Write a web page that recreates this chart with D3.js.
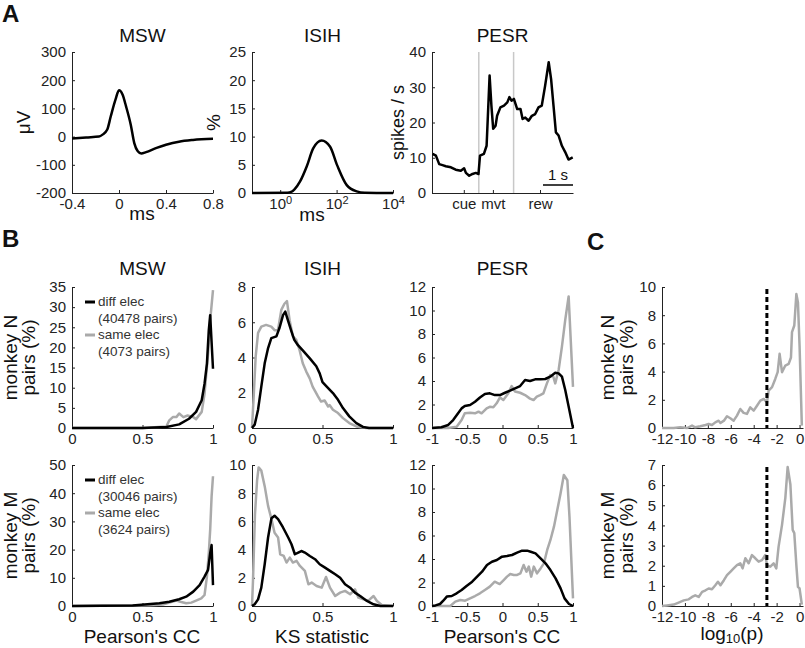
<!DOCTYPE html>
<html>
<head>
<meta charset="utf-8">
<script src="https://cdn.jsdelivr.net/npm/d3@7"></script>
<style>
  body { margin: 0; background: #fff; }
  svg { font-family: "Liberation Sans", Arial, sans-serif; }
  .tick text { font-size: 15px; fill: #222; }
  .domain, .tick line { stroke: #222; stroke-width: 1; }
</style>
</head>
<body>
<svg width="805" height="648"></svg>
<script>
// ---- panel A data ----
const mswTime = [-0.4, -0.28, -0.17, -0.14, -0.10, -0.07, -0.03, 0.0, 0.03, 0.06, 0.10, 0.13, 0.16, 0.19, 0.23, 0.32, 0.40, 0.51, 0.63, 0.80];
const mswVolt = [-7, -3, 0, 7, 25, 72, 131, 164, 149, 107, 42, -23, -52, -60, -55, -40, -29, -18, -12, -8];

const isihMs = [0.1, 1.78, 2.57, 3.16, 5.01, 8.71, 14.8, 29.5, 58.9, 105, 229, 513, 1000, 10000];
const isihPct = [0, 0.05, 0.23, 0.6, 2.0, 4.7, 7.9, 9.3, 8.2, 4.9, 1.4, 0.3, 0.05, 0];

const pesrTime = [0.02, 0.13, 0.24, 0.35, 0.46, 0.63, 0.79, 0.96, 1.07, 1.13, 1.24, 1.35, 1.46, 1.55, 1.60, 1.73, 1.82, 1.92, 1.98, 2.04, 2.12, 2.17, 2.28, 2.40, 2.51, 2.58, 2.65, 2.73, 2.84, 2.95, 3.02, 3.11, 3.22, 3.33, 3.44, 3.55, 3.66, 3.77, 3.89, 3.97, 4.05, 4.13, 4.22, 4.33, 4.44, 4.55, 4.69];
const pesrRate = [11.1, 10.6, 8.2, 7.9, 7.6, 7.3, 6.6, 6.3, 7.0, 5.7, 4.9, 5.4, 5.7, 5.4, 10.6, 11.1, 13.4, 33.3, 24.8, 18.2, 19.1, 21.9, 24.3, 24.8, 25.7, 27.2, 26.2, 26.7, 23.8, 23.8, 21.0, 21.4, 20.5, 21.9, 22.4, 24.3, 24.8, 30.4, 37.1, 32.3, 24.8, 17.2, 16.3, 13.4, 11.6, 9.5, 10.1];
const pesrEventLines = [1.56, 2.72];
const pesrEventTicks = [1.06, 2.03, 3.6];
const pesrEventLabels = ["cue", "mvt", "rew"];

// ---- panel B / C data: [x, % pairs] ----
const nMswDiff = [[0, 0], [0.5, 0], [0.67, 0.25], [0.76, 0.9], [0.83, 2.3], [0.88, 4], [0.92, 6.9], [0.94, 11], [0.957, 16], [0.97, 24.2], [0.98, 28], [1.0, 14.7]];
const nMswSame = [[0, 0], [0.5, 0], [0.67, 0.4], [0.69, 1.9], [0.715, 2.7], [0.74, 2.7], [0.76, 3.6], [0.79, 2.7], [0.82, 3.1], [0.86, 2.7], [0.88, 2.2], [0.92, 4], [0.94, 8.5], [0.965, 18.4], [0.98, 26.7], [1.0, 34.2]];
const nIsihDiff = [[0, 0], [0.019, 0.19], [0.043, 1.04], [0.066, 2.35], [0.09, 3.67], [0.113, 4.5], [0.137, 5.1], [0.173, 5.2], [0.196, 5.7], [0.22, 6.4], [0.236, 6.6], [0.255, 6.1], [0.279, 5.5], [0.30, 5.0], [0.326, 4.7], [0.36, 4.4], [0.41, 3.95], [0.456, 3.5], [0.48, 3.1], [0.50, 2.6], [0.54, 2.26], [0.574, 1.98], [0.61, 1.6], [0.645, 1.13], [0.69, 0.66], [0.74, 0.28], [0.787, 0.06], [0.83, 0], [1.0, 0]];
const nIsihSame = [[0, 0], [0.012, 1.8], [0.026, 4.05], [0.043, 5.4], [0.066, 5.75], [0.10, 5.85], [0.137, 5.75], [0.16, 5.55], [0.184, 5.55], [0.208, 6.7], [0.23, 7.05], [0.248, 7.2], [0.267, 6.1], [0.29, 5.2], [0.314, 5.0], [0.338, 4.4], [0.36, 3.67], [0.385, 3.2], [0.41, 2.8], [0.43, 2.35], [0.468, 1.8], [0.49, 1.5], [0.515, 1.56], [0.54, 1.22], [0.55, 1.3], [0.574, 1.04], [0.61, 0.85], [0.645, 0.56], [0.69, 0.28], [0.74, 0.09], [0.81, 0], [1.0, 0]];
const nPesrDiff = [[-1, 0], [-0.867, 0.06], [-0.77, 0.26], [-0.70, 0.68], [-0.63, 1.25], [-0.58, 1.67], [-0.535, 1.87], [-0.46, 1.96], [-0.39, 2.24], [-0.32, 2.6], [-0.25, 2.9], [-0.18, 2.95], [-0.107, 2.8], [-0.036, 2.8], [0.036, 3.0], [0.107, 3.18], [0.178, 3.38], [0.25, 3.57], [0.32, 4.08], [0.39, 4.0], [0.463, 4.14], [0.534, 4.14], [0.606, 4.17], [0.677, 4.37], [0.748, 4.7], [0.796, 4.65], [0.843, 4.37], [0.89, 3.23], [0.938, 1.82], [1.0, 0]];
const nPesrSame = [[-1, 0], [-0.77, 0], [-0.65, 0.11], [-0.58, 0.68], [-0.535, 1.25], [-0.46, 1.3], [-0.39, 1.25], [-0.34, 1.39], [-0.297, 1.25], [-0.225, 1.67], [-0.18, 1.8], [-0.13, 1.76], [-0.083, 2.1], [-0.036, 2.6], [0.012, 2.38], [0.083, 2.95], [0.13, 3.57], [0.178, 3.1], [0.25, 3.0], [0.32, 2.8], [0.39, 2.5], [0.44, 2.38], [0.487, 2.67], [0.534, 2.8], [0.58, 2.95], [0.63, 3.8], [0.677, 4.5], [0.72, 4.37], [0.748, 3.8], [0.796, 4.94], [0.843, 6.92], [0.89, 9.2], [0.938, 11.2], [1.0, 3.5]];
const nLogP = [[-12, 0], [-11.56, 0], [-10.98, 0], [-10.4, 0.05], [-9.8, 0], [-9.38, 0.17], [-9.1, 0.05], [-8.66, 0.12], [-8.2, 0.21], [-7.93, 0.28], [-7.64, 0.21], [-7.35, 0.4], [-7.06, 0.52], [-6.9, 0.36], [-6.6, 0.52], [-6.33, 0.83], [-6.04, 0.69], [-5.75, 0.52], [-5.46, 0.88], [-5.17, 1.35], [-4.88, 1.07], [-4.59, 1.0], [-4.3, 1.47], [-4.0, 1.23], [-3.7, 1.6], [-3.42, 1.94], [-3.13, 2.06], [-2.84, 1.82], [-2.7, 2.65], [-2.4, 2.9], [-2.12, 3.48], [-1.91, 3.96], [-1.74, 5.26], [-1.53, 3.96], [-1.24, 4.43], [-0.95, 4.55], [-0.75, 5.0], [-0.66, 6.8], [-0.46, 7.27], [-0.28, 9.5], [-0.14, 8.9], [0.0, 5.85], [0.2, 0.17]];

const mMswDiff = [[0, 0], [0.43, 0.2], [0.62, 0.95], [0.69, 1.5], [0.76, 2.4], [0.81, 3.3], [0.86, 5.1], [0.905, 7.4], [0.94, 10.4], [0.965, 12.8], [0.98, 18.7], [0.99, 21.6], [1.0, 7.4]];
const mMswSame = [[0, 0], [0.55, 0.24], [0.645, 0.5], [0.69, 1.2], [0.74, 1.9], [0.775, 1.4], [0.81, 0.95], [0.846, 1.2], [0.88, 1.9], [0.917, 2.7], [0.94, 3.9], [0.957, 10.4], [0.97, 18.7], [0.98, 27], [0.99, 38.8], [1.0, 46]];
const mIsihDiff = [[0, 0], [0.019, 0.12], [0.043, 0.47], [0.066, 1.3], [0.09, 2.96], [0.114, 4.86], [0.138, 6.23], [0.16, 6.4], [0.185, 6.16], [0.22, 5.57], [0.257, 4.86], [0.28, 4.38], [0.304, 3.67], [0.328, 3.79], [0.35, 3.9], [0.375, 3.79], [0.41, 3.55], [0.447, 3.32], [0.48, 2.96], [0.518, 2.72], [0.553, 2.49], [0.59, 2.25], [0.625, 2.0], [0.66, 1.54], [0.696, 1.3], [0.73, 0.95], [0.767, 0.71], [0.815, 0.36], [0.862, 0.12], [0.91, 0], [1.0, 0]];
const mIsihSame = [[0, 0], [0.007, 1.78], [0.021, 6.5], [0.036, 8.9], [0.047, 9.83], [0.066, 9.6], [0.09, 8.5], [0.114, 7.1], [0.138, 6.16], [0.16, 5.2], [0.185, 4.86], [0.2, 3.67], [0.225, 3.55], [0.245, 3.08], [0.268, 3.43], [0.29, 3.08], [0.316, 3.2], [0.34, 2.84], [0.375, 2.49], [0.4, 1.54], [0.423, 1.66], [0.458, 1.42], [0.494, 1.3], [0.525, 2.06], [0.553, 1.3], [0.59, 0.71], [0.625, 0.95], [0.66, 1.07], [0.696, 0.83], [0.73, 1.18], [0.755, 0.59], [0.79, 0.47], [0.827, 0.4], [0.862, 0.71], [0.886, 0.36], [0.92, 0.07], [1.0, 0]];
const mPesrDiff = [[-1, 0], [-0.95, 0.05], [-0.886, 0.17], [-0.84, 0.45], [-0.79, 0.8], [-0.72, 0.85], [-0.65, 1.08], [-0.58, 1.36], [-0.51, 1.7], [-0.43, 2.07], [-0.36, 2.5], [-0.29, 2.92], [-0.22, 3.49], [-0.15, 3.77], [-0.08, 3.91], [-0.007, 4.2], [0.064, 4.26], [0.135, 4.34], [0.207, 4.54], [0.278, 4.71], [0.35, 4.71], [0.4, 4.62], [0.468, 4.48], [0.54, 4.06], [0.61, 3.63], [0.68, 3.06], [0.753, 2.35], [0.824, 1.5], [0.88, 0.65], [0.943, 0.17], [1.0, 0]];
const mPesrSame = [[-1, 0], [-0.74, 0], [-0.67, 0.37], [-0.6, 0.51], [-0.53, 0.45], [-0.46, 0.65], [-0.39, 0.85], [-0.32, 1.08], [-0.25, 1.36], [-0.18, 1.65], [-0.11, 2.07], [-0.04, 1.87], [0.017, 2.21], [0.064, 2.5], [0.11, 2.72], [0.16, 2.64], [0.207, 2.64], [0.254, 2.78], [0.3, 3.49], [0.34, 2.92], [0.373, 3.35], [0.407, 2.5], [0.444, 3.35], [0.49, 2.78], [0.54, 3.2], [0.587, 3.63], [0.634, 4.77], [0.68, 5.62], [0.73, 6.75], [0.777, 8.17], [0.824, 9.59], [0.87, 11.15], [0.92, 10.7], [0.95, 7.6], [1.0, 0.65]];
const mLogP = [[-12, 0], [-11.56, 0.03], [-10.98, 0.07], [-10.55, 0.17], [-10.1, 0.28], [-9.67, 0.33], [-9.38, 0.45], [-9.1, 0.53], [-8.8, 0.45], [-8.5, 0.7], [-8.2, 0.78], [-7.93, 0.87], [-7.64, 0.83], [-7.35, 1.03], [-7.12, 1.2], [-6.9, 1.03], [-6.6, 1.28], [-6.33, 1.53], [-6.04, 1.7], [-5.75, 1.87], [-5.46, 2.03], [-5.17, 2.12], [-4.97, 1.87], [-4.73, 2.37], [-4.44, 2.12], [-4.15, 2.53], [-3.86, 2.37], [-3.57, 2.2], [-3.28, 2.28], [-2.99, 2.53], [-2.84, 2.03], [-2.55, 1.95], [-2.26, 2.12], [-2.03, 1.87], [-1.83, 2.95], [-1.53, 4.03], [-1.24, 5.37], [-1.04, 6.9], [-0.8, 6.03], [-0.6, 3.78], [-0.46, 3.62], [-0.28, 2.03], [-0.14, 0.95], [0.0, 0.87], [0.2, 0.07]];
const pThreshold = -2.85;

const nLegend = ["diff elec", "(40478 pairs)", "same elec", "(4073 pairs)"];
const mLegend = ["diff elec", "(30046 pairs)", "same elec", "(3624 pairs)"];
const colTitles = ["MSW", "ISIH", "PESR"];

// ---- layout ----
const svg = d3.select("svg");
const BLACK = "#000", GRAY = "#aaa";
const cols = [[72, 213], [252, 393], [432, 573], [662, 803]];
const rowA = [52, 193], rowN = [287, 428], rowM = [465, 606];
const plain = d => String(d); // 0.5, 1, -1 with a hyphen, like the original

function axes(col, row, xs, ys, xt, yt) {
  const x = xs.range(col), y = ys.range([row[1], row[0]]);
  const g = svg.append("g");
  const xg = g.append("g").attr("transform", "translate(0," + row[1] + ")")
    .call(d3.axisBottom(x).tickValues(xt).tickFormat(plain).tickSize(-3).tickSizeOuter(0).tickPadding(5));
  g.append("g").attr("transform", "translate(" + col[0] + ",0)")
    .call(d3.axisLeft(y).tickValues(yt).tickFormat(plain).tickSize(-3).tickSizeOuter(0).tickPadding(6));
  return { g, xg, x, y };
}

function curve(p, data, color, smooth) {
  const line = d3.line().x(d => p.x(d[0])).y(d => p.y(d[1]));
  if (smooth) line.curve(d3.curveMonotoneX);
  p.g.append("path").attr("d", line(data)).attr("fill", "none")
    .attr("stroke", color).attr("stroke-width", 2.5).attr("stroke-linejoin", "round");
}

function text(x, y, s, size, opts = {}) {
  const t = svg.append("text").attr("x", x).attr("y", y).text(s)
    .attr("font-size", size).attr("text-anchor", opts.anchor || "middle").attr("fill", "#111");
  if (opts.bold) t.attr("font-weight", "bold");
  return t;
}

function ylabel(x, yc, s, size) {
  svg.append("text").attr("transform", "translate(" + x + "," + yc + ") rotate(-90)")
    .attr("text-anchor", "middle").attr("font-size", size).attr("fill", "#111").text(s);
}

const range = (a, b, s) => d3.range(a, b + s / 2, s);

// ---- panel A ----
text(2, 22, "A", 24, { anchor: "start", bold: true });
colTitles.forEach((t, i) => text((cols[i][0] + cols[i][1]) / 2, 42, t, 19));

const a1 = axes(cols[0], rowA, d3.scaleLinear().domain([-0.4, 0.8]), d3.scaleLinear().domain([-200, 300]),
  [-0.4, 0, 0.4, 0.8], range(-200, 300, 100));
curve(a1, mswTime.map((t, i) => [t, mswVolt[i]]), BLACK, true);
ylabel(30, (rowA[0] + rowA[1]) / 2, "μV", 19);
text(142, 220, "ms", 19);

const a2 = axes(cols[1], rowA, d3.scaleLog().domain([0.1, 10000]), d3.scaleLinear().domain([0, 25]),
  [1, 100, 10000], range(0, 25, 5));
a2.xg.selectAll(".tick text").each(function (d) {
  const t = d3.select(this).text("");
  t.append("tspan").text("10");
  t.append("tspan").attr("dy", "-0.45em").attr("font-size", "11px").text(Math.round(Math.log10(d)));
});
curve(a2, isihMs.map((t, i) => [t, isihPct[i]]), BLACK, true);
ylabel(220, (rowA[0] + rowA[1]) / 2, "%", 19);
text(312, 221, "ms", 19);

const a3 = axes(cols[2], rowA, d3.scaleLinear().domain([0, 4.7]), d3.scaleLinear().domain([0, 40]),
  pesrEventTicks, range(0, 40, 10));
a3.xg.selectAll(".tick text").text((d, i) => pesrEventLabels[i]);
pesrEventLines.forEach(t => a3.g.append("line").attr("x1", a3.x(t)).attr("x2", a3.x(t))
  .attr("y1", rowA[0]).attr("y2", rowA[1]).attr("stroke", "#c8c8c8").attr("stroke-width", 1.5));
curve(a3, pesrTime.map((t, i) => [t, pesrRate[i]]), BLACK, false);
ylabel(404, (rowA[0] + rowA[1]) / 2, "spikes / s", 18);
a3.g.append("line").attr("x1", a3.x(3.7)).attr("x2", a3.x(4.7)).attr("y1", 185).attr("y2", 185)
  .attr("stroke", BLACK).attr("stroke-width", 1.5);
text((a3.x(3.7) + a3.x(4.7)) / 2, 180, "1 s", 15);

// ---- panel B ----
text(2, 247, "B", 24, { anchor: "start", bold: true });
text(587, 250, "C", 24, { anchor: "start", bold: true });
colTitles.forEach((t, i) => text((cols[i][0] + cols[i][1]) / 2, 275, t, 19));

function rowB(row, msw, isih, pesr, logp, mswMax, mswStep, isihMax, logMax, logStep, legend, label) {
  const p1 = axes(cols[0], row, d3.scaleLinear().domain([0, 1]), d3.scaleLinear().domain([0, mswMax]),
    [0, 0.5, 1], range(0, mswMax, mswStep));
  curve(p1, msw[1], GRAY); curve(p1, msw[0], BLACK);
  const p2 = axes(cols[1], row, d3.scaleLinear().domain([0, 1]), d3.scaleLinear().domain([0, isihMax]),
    [0, 0.5, 1], range(0, isihMax, 2));
  curve(p2, isih[1], GRAY); curve(p2, isih[0], BLACK);
  const p3 = axes(cols[2], row, d3.scaleLinear().domain([-1, 1]), d3.scaleLinear().domain([0, 12]),
    [-1, -0.5, 0, 0.5, 1], range(0, 12, 2));
  curve(p3, pesr[1], GRAY); curve(p3, pesr[0], BLACK);
  const p4 = axes(cols[3], row, d3.scaleLinear().domain([-12, 0.3]), d3.scaleLinear().domain([0, logMax]),
    range(-12, 0, 2), range(0, logMax, logStep));
  curve(p4, logp, GRAY);
  p4.g.append("line").attr("x1", p4.x(pThreshold)).attr("x2", p4.x(pThreshold))
    .attr("y1", row[0] + 2).attr("y2", row[1]).attr("stroke", BLACK).attr("stroke-width", 3)
    .attr("stroke-dasharray", "5,3");
  // legend
  const ly = row[0] + 19;
  [BLACK, GRAY].forEach((c, i) => {
    svg.append("line").attr("x1", 85).attr("x2", 95).attr("y1", ly + i * 33 - 4).attr("y2", ly + i * 33 - 4)
      .attr("stroke", c).attr("stroke-width", 3);
  });
  legend.forEach((s, i) => text(98, ly + i * 16.5, s, 13.5, { anchor: "start" }).attr("fill", "#333"));
  // y labels
  [[17, 35], [614, 633]].forEach(xx => {
    ylabel(xx[0], (row[0] + row[1]) / 2, label, 19);
    ylabel(xx[1], (row[0] + row[1]) / 2, "pairs (%)", 19);
  });
}

rowB(rowN, [nMswDiff, nMswSame], [nIsihDiff, nIsihSame], [nPesrDiff, nPesrSame], nLogP,
  35, 5, 8, 10, 2, nLegend, "monkey N");
rowB(rowM, [mMswDiff, mMswSame], [mIsihDiff, mIsihSame], [mPesrDiff, mPesrSame], mLogP,
  50, 10, 10, 7, 1, mLegend, "monkey M");

text(142, 643, "Pearson's CC", 19);
text(322, 643, "KS statistic", 19);
text(502, 643, "Pearson's CC", 19);
const lg = text(732, 640, "log", 19);
lg.append("tspan").attr("font-size", "13px").attr("dy", "3").text("10");
lg.append("tspan").attr("dy", "-3").text("(p)");
</script>
</body>
</html>
